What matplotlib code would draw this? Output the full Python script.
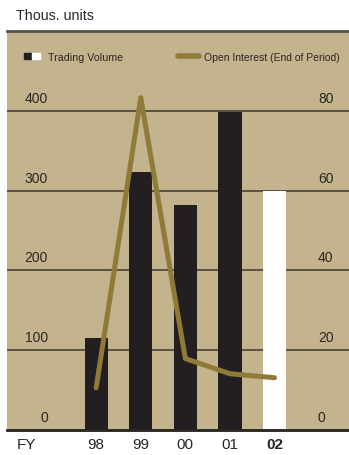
# -*- coding: utf-8 -*-
"""
Trading volume and open interest, FY98-FY02
"""

#------------------------------------------------------------#
# STEP 1: setup                                              #
#------------------------------------------------------------#

import numpy as np
import matplotlib
matplotlib.use('Agg')
import matplotlib.pyplot as plt
from matplotlib.patches import Rectangle
from matplotlib.lines import Line2D
from matplotlib.legend_handler import HandlerTuple

plt.rcParams['font.family'] = ['Liberation Sans', 'DejaVu Sans']

years = ['98', '99', '00', '01', '02']
trading_volume = [115, 323, 282, 399, 300]        # thous. units, left axis
open_interest = [10.6, 83.3, 17.9, 14.1, 13.1]    # thous. units, right axis
left_ticks = [0, 100, 200, 300, 400]
right_ticks = [0, 20, 40, 60, 80]

panel_col = '#c4b48e'
bar_col = '#231f20'
line_col = '#8f7b37'
grid_col = '#3b3630'
text_col = '#2a2622'

#------------------------------------------------------------#
# STEP 2: plot                                               #
#------------------------------------------------------------#

fig = plt.figure(figsize=(3.49, 4.56), dpi=100)
ax = fig.add_axes([7 / 349, 25 / 456, 342 / 349, 399 / 456])
ax.set_facecolor(panel_col)

x = np.arange(len(years))
bar_colors = [bar_col] * (len(years) - 1) + ['white']
ax.bar(x, trading_volume, width=0.52, color=bar_colors, zorder=2)

ax.set_ylim(0, 500)
ax.set_xlim(-2.0, 5.67)
for v in left_ticks[1:]:
    ax.axhline(v, color=grid_col, lw=1.1, zorder=1)

ax2 = ax.twinx()
ax2.set_ylim(0, 100)
ax2.plot(x, open_interest, color=line_col, lw=3.6,
         solid_capstyle='round', solid_joinstyle='round', zorder=3)

# Labels
for a in [ax, ax2]:
    a.set_yticks([])
    a.tick_params(axis='x', length=0)
    for pos in ['left', 'right']:
        a.spines[pos].set_visible(False)
    a.spines['top'].set_color('#5a5650')
    a.spines['top'].set_linewidth(1.8)
    a.spines['bottom'].set_color('#2a2622')
    a.spines['bottom'].set_linewidth(1.8)

for v in left_ticks:
    ax.annotate(str(v), xy=(0.12, v), xycoords=('axes fraction', 'data'),
                xytext=(0, 6), textcoords='offset pixels',
                ha='right', va='bottom', fontsize=10, color=text_col)
for v in right_ticks:
    ax2.annotate(str(v), xy=(0.909, v), xycoords=('axes fraction', 'data'),
                 xytext=(0, 6), textcoords='offset pixels',
                 ha='left', va='bottom', fontsize=10, color=text_col)

ax.set_xticks(x)
ax.set_xticklabels(years, fontsize=11, color=text_col)
ax.get_xticklabels()[-1].set_fontweight('bold')
ax.tick_params(axis='x', pad=5)
ax.text(-1.57, -0.035, 'FY', transform=ax.get_xaxis_transform(),
        ha='center', va='center', fontsize=11, color=text_col)

fig.text(16 / 349, 1 - 16 / 456, 'Thous. units', ha='left', va='center',
         fontsize=10.3, color=text_col)

# Legend
vol_handle = (Rectangle((0, 0), 1, 1, color=bar_col),
              Rectangle((0, 0), 1, 1, color='white'))
oi_handle = Line2D([0], [0], color=line_col, lw=4, solid_capstyle='round')

leg1 = ax.legend([vol_handle], ['Trading Volume'],
                 handler_map={tuple: HandlerTuple(ndivide=None, pad=0)},
                 frameon=False, loc='center left', bbox_to_anchor=(0.037, 0.935),
                 handlelength=1.5, handleheight=0.55, handletextpad=0.75,
                 borderaxespad=0, fontsize=7.7, labelcolor=text_col)
ax.add_artist(leg1)
ax.legend([oi_handle], ['Open Interest (End of Period)'],
          frameon=False, loc='center left', bbox_to_anchor=(0.488, 0.935),
          handlelength=2.0, handletextpad=0.5,
          borderaxespad=0, fontsize=7.5, labelcolor=text_col)

plt.savefig('out.png', dpi=100)
